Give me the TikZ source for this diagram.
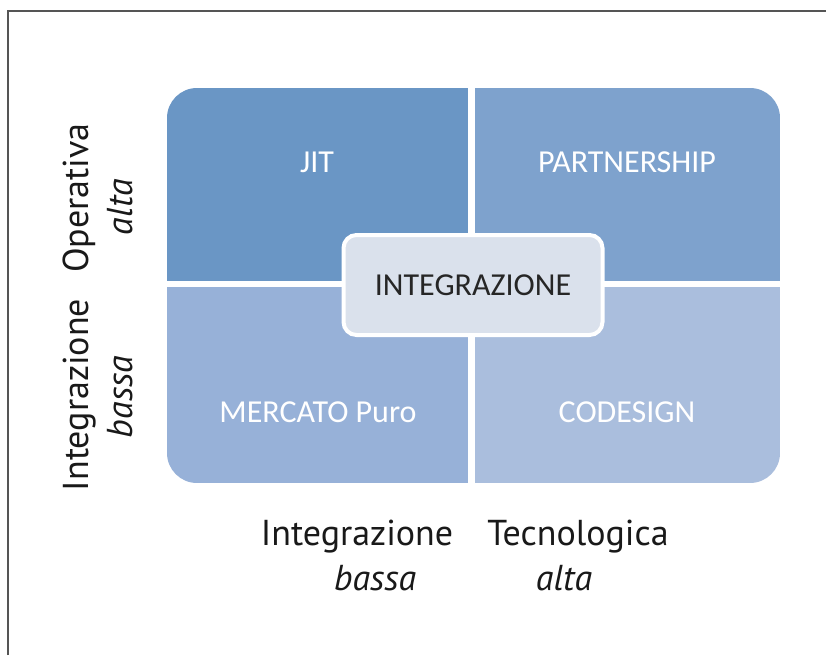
\documentclass[tikz,border=0pt]{standalone}
\usepackage{fontspec}
\newfontfamily\boxfont{Carlito}
\newfontfamily\axisfont{PT Sans}
\begin{document}
\begin{tikzpicture}[x=1pt,y=-1pt,
  quadlabel/.style={font=\boxfont\fontsize{32}{36}\selectfont, text=white, inner sep=0pt},
  centerbox/.style={draw=white, line width=4pt, fill=centerc, rounded corners=13pt,
    minimum width=259pt, minimum height=100pt, inner sep=0pt,
    font=\boxfont\fontsize{32}{36}\selectfont, text=black!85},
  axislabel/.style={font=\axisfont\fontsize{36}{40}\selectfont, text=black!90, inner sep=0pt, anchor=base},
  axisital/.style={axislabel, font=\axisfont\itshape\fontsize{36}{40}\selectfont}]
\definecolor{tlc}{RGB}{106,150,197}
\definecolor{trc}{RGB}{126,162,205}
\definecolor{blc}{RGB}{151,177,216}
\definecolor{brc}{RGB}{170,190,221}
\definecolor{centerc}{RGB}{218,225,236}
\definecolor{framec}{RGB}{85,85,85}
\useasboundingbox (0,0) rectangle (826,655);
\fill[white] (0,0) rectangle (826,655);

% page frame: top and left rules
\draw[framec, line width=2pt] (8,655) -- (8,11) -- (826,11);

% four quadrants inside one rounded outline, separated by a white cross
\begin{scope}
  \clip[rounded corners=30pt] (167,88) rectangle (780,483);
  \fill[tlc] (167,88) rectangle (468,281);
  \fill[trc] (475,88) rectangle (780,281);
  \fill[blc] (167,287) rectangle (468,483);
  \fill[brc] (475,287) rectangle (780,483);
\end{scope}

\node[quadlabel] (jit) at (317,162) {JIT};
\node[quadlabel] (partner) at (627,162) {PARTNERSHIP};
\node[quadlabel] (mercato) at (318,412) {MERCATO Puro};
\node[quadlabel] (codesign) at (627,412) {CODESIGN};

\node[centerbox] (integ) at (473,285) {INTEGRAZIONE};

% horizontal axis labels
\node[axislabel] (xlow) at (357,545) {Integrazione};
\node[axislabel] (xhigh) at (578,545) {Tecnologica};
\node[axisital] (xlowv) at (375,590) {bassa};
\node[axisital] (xhighv) at (564,590) {alta};

% vertical axis labels
\node[axislabel, rotate=90] (ylow) at (88,395) {Integrazione};
\node[axislabel, rotate=90] (yhigh) at (88,198) {Operativa};
\node[axisital, rotate=90] (ylowv) at (132,397) {bassa};
\node[axisital, rotate=90] (yhighv) at (132,207) {alta};
\end{tikzpicture}
\end{document}
